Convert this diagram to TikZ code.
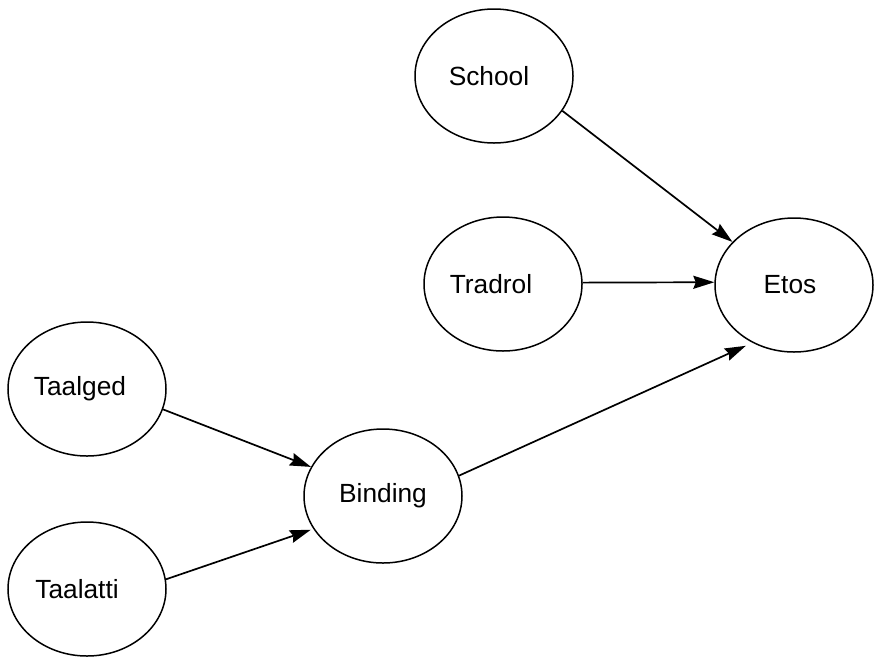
\documentclass[tikz,border=0pt]{standalone}
\usepackage{fontspec}
\setmainfont{Liberation Sans}
\usetikzlibrary{shapes.geometric,arrows.meta}
\begin{document}
\begin{tikzpicture}[x=1pt,y=-1pt,
  el/.style={draw, ellipse, line width=1.5pt, inner sep=0pt, minimum width=158pt, minimum height=134pt},
  lbl/.style={inner sep=0pt, font=\fontsize{26.3}{30}\selectfont},
  arr/.style={draw, line width=1.7pt, -{Stealth[length=21pt,width=13pt,inset=2.5pt]}}]
\useasboundingbox (0,0) rectangle (875,657);
\node[el] (school) at (494,76) {};
\node[el] (tradrol) at (503,284) {};
\node[el] (etos) at (794,285) {};
\node[el] (taalged) at (87,389) {};
\node[el] (binding) at (383,496) {};
\node[el] (taalatti) at (87,589) {};
\node[lbl] (school-t) at ([xshift=-5pt]school.center) {School};
\node[lbl] (tradrol-t) at ([xshift=-12pt]tradrol.center) {Tradrol};
\node[lbl] (etos-t) at ([xshift=-4pt]etos.center) {Etos};
\node[lbl] (taalged-t) at ([xshift=-7pt]taalged.center) {Taalged};
\node[lbl] (binding-t) at (binding.center) {Binding};
\node[lbl] (taalatti-t) at ([xshift=-10pt]taalatti.center) {Taalatti};
\draw[arr] (school.-27) -- (etos.145);
\draw[arr] (tradrol.1) -- (etos.178);
\draw[arr] (binding.15) -- ([shift={(-3pt,-5pt)}]etos.231);
\draw[arr] (taalged.-15) -- (binding.158);
\draw[arr] (taalatti.7) -- ([shift={(-3pt,0pt)}]binding.206);
\end{tikzpicture}
\end{document}
